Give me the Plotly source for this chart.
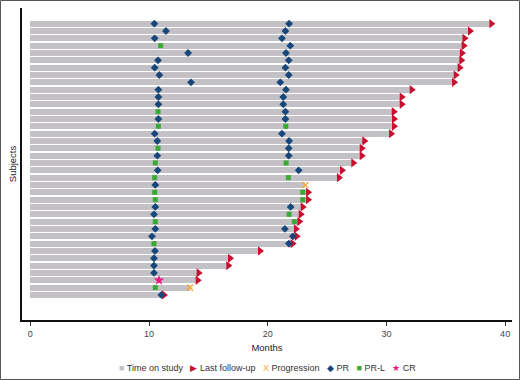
import plotly.graph_objects as go

# Subjects ordered from top (0) to bottom (37)
subjects = list(range(38))
time_on_study = [38.84, 37.04, 36.58, 36.51, 36.36, 36.31, 36.17, 35.84, 35.70,
                 32.13, 31.29, 31.29, 30.62, 30.64, 30.64, 30.39, 28.14, 27.92,
                 27.92, 27.21, 26.26, 26.00, 23.17, 23.40, 23.40, 22.95, 22.78,
                 22.66, 22.38, 22.44, 22.10, 19.35, 16.82, 16.68, 14.18, 14.10,
                 13.45, 11.26]
followup_subjects = [s for s in subjects if s not in (22, 36)]
progression_subjects = [22, 36]
progression_months = [23.17, 13.45]

pr_subjects = [0, 1, 2, 4, 5, 6, 7, 8, 9, 10, 11, 13, 15, 16, 18, 20, 22, 25, 26,
               28, 29, 31, 32, 33, 34, 37,
               0, 1, 2, 3, 4, 5, 6, 7, 8, 9, 10, 11, 12, 13, 15, 16, 17, 18, 20,
               25, 28, 29, 30]
pr_months = [10.45, 11.43, 10.48, 13.29, 10.76, 10.48, 10.87, 13.54, 10.79, 10.79,
             10.79, 10.79, 10.48, 10.70, 10.70, 10.73, 10.53, 10.53, 10.42,
             10.53, 10.25, 10.50, 10.42, 10.42, 10.42, 11.04,
             21.80, 21.49, 21.20, 21.90, 21.54, 21.77, 21.49, 21.77, 21.06, 21.54,
             21.31, 21.31, 21.49, 21.49, 21.20, 21.80, 21.77, 21.77, 22.61,
             21.93, 21.45, 22.12, 21.78]
prl_subjects = [3, 12, 14, 17, 19, 21, 23, 24, 27, 30, 36,
                14, 19, 21, 23, 24, 26, 27]
prl_months = [10.98, 10.76, 10.79, 10.76, 10.53, 10.48, 10.48, 10.53, 10.53, 10.42, 10.53,
              21.52, 21.55, 21.74, 22.95, 22.95, 21.80, 22.24]
cr_subjects = [35]
cr_months = [10.84]

x_ticks = [0, 10, 20, 30, 40]

BAR = "#C3C1C5"
RED = "#C8102E"
ORANGE = "#F2A93B"
BLUE = "#17467A"
GREEN = "#3AA935"
PINK = "#E5197E"

fig = go.Figure()
fig.add_trace(go.Bar(x=time_on_study, y=subjects, base=0, orientation="h",
                     marker=dict(color=BAR, line=dict(width=0)), width=0.8,
                     name="Time on study", showlegend=False))
fig.add_trace(go.Scatter(x=[time_on_study[s] for s in followup_subjects], y=followup_subjects,
                         mode="markers", marker=dict(symbol="triangle-right", size=8, color=RED),
                         name="Last follow-up", showlegend=False))
fig.add_trace(go.Scatter(x=progression_months, y=progression_subjects, mode="markers",
                         marker=dict(symbol="x-thin", size=6, line=dict(color=ORANGE, width=1.5)),
                         name="Progression", showlegend=False))
fig.add_trace(go.Scatter(x=pr_months, y=pr_subjects, mode="markers",
                         marker=dict(symbol="diamond", size=6, color=BLUE),
                         name="PR", showlegend=False))
fig.add_trace(go.Scatter(x=prl_months, y=prl_subjects, mode="markers",
                         marker=dict(symbol="square", size=5, color=GREEN),
                         name="PR-L", showlegend=False))
fig.add_trace(go.Scatter(x=cr_months, y=cr_subjects, mode="markers",
                         marker=dict(symbol="star", size=8, color=PINK),
                         name="CR", showlegend=False))

TITLE_FONT = "Liberation Sans Narrow, Arial Narrow, Liberation Sans, Arial, sans-serif"
BASE_FONT = "Liberation Sans, Arial, sans-serif"

fig.update_layout(
    width=520, height=380,
    margin=dict(l=22, r=8, t=8, b=60),
    paper_bgcolor="white", plot_bgcolor="white",
    font=dict(family=BASE_FONT, size=9, color="#333333"),
    bargap=0,
    xaxis=dict(range=[-0.7, 40.58], tickvals=x_ticks, ticks="outside", ticklen=4,
               tickcolor="#333333", showline=True, linecolor="#111111", linewidth=1.5,
               showgrid=False, zeroline=False, tickfont=dict(size=9, color="#444444"),
               automargin=False,
               title=dict(text="Months", font=dict(family=TITLE_FONT, size=9.5, color="#222222"),
                          standoff=7)),
    yaxis=dict(range=[40.42, -2.14], showticklabels=False, ticks="", showline=True,
               linecolor="#111111", linewidth=1.5, showgrid=False, zeroline=False,
               automargin=False,
               title=dict(text="Subjects", font=dict(family=TITLE_FONT, size=9.5, color="#222222"),
                          standoff=2)),
)

legend_text = (
    f'<span style="color:{BAR}">■</span> Time on study   '
    f'<span style="color:{RED}">▶</span> Last follow-up   '
    f'<span style="color:{ORANGE}">X</span> Progression   '
    f'<span style="color:{BLUE}">◆</span> PR   '
    f'<span style="color:{GREEN}">■</span> PR-L   '
    f'<span style="color:{PINK}">★</span> CR'
)
fig.add_annotation(text=legend_text, x=0.5, y=-0.154, xref="paper", yref="paper",
                   xanchor="center", yanchor="middle", showarrow=False,
                   font=dict(family=BASE_FONT, size=9, color="#333333"))

fig.add_shape(type="rect", xref="paper", yref="paper",
              x0=-0.0439, x1=1.0153, y0=-0.1907, y1=1.024,
              line=dict(color="#555555", width=1), fillcolor="rgba(0,0,0,0)", layer="above")

fig.write_html("out.html", config={"displayModeBar": False},
               post_script="document.body.style.margin='0px';document.body.style.overflow='hidden';")
